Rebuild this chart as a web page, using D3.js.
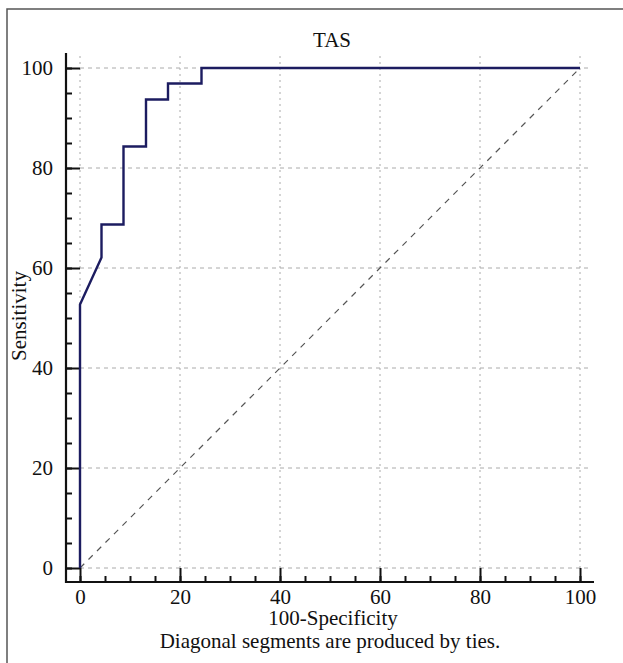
<!DOCTYPE html>
<html>
<head>
<meta charset="utf-8">
<script src="https://cdn.jsdelivr.net/npm/d3@7"></script>
<style>
  body { margin: 0; background: #fff; }
  svg { display: block; font-family: "Liberation Serif", "DejaVu Serif", serif; }
</style>
</head>
<body>
<div class="chart"></div>
<script>
// ROC curve points
const fpr = [0, 0, 4.3, 4.3, 8.7, 8.7, 13.2, 13.2, 17.6, 17.6, 24.3, 24.3, 100];
const tpr = [0, 52.7, 62.1, 68.7, 68.7, 84.3, 84.3, 93.7, 93.7, 96.9, 96.9, 100, 100];
const majorTicks = [0, 20, 40, 60, 80, 100];
const minorTicks = d3.range(0, 101, 5);
const title = "TAS";
const xLabel = "100-Specificity";
const yLabel = "Sensitivity";
const note = "Diagonal segments are produced by ties.";

function drawChart() {
  const width = 623;
  const height = 663;
  const axisX = 66, axisY = 582;

  const svg = d3.select(".chart").append("svg")
    .attr("width", width)
    .attr("height", height);

  // frame
  svg.append("path")
    .attr("d", `M7,${height} L7,9 L${width},9`)
    .attr("fill", "none")
    .attr("stroke", "#555")
    .attr("stroke-width", 1.5);

  const xScale = d3.scaleLinear().domain([0, 100]).range([80, 580]);
  const yScale = d3.scaleLinear().domain([0, 100]).range([568, 68]);

  // grid
  svg.append("g").selectAll("line")
    .data(majorTicks)
    .enter()
    .append("line")
      .attr("x1", d => xScale(d)).attr("x2", d => xScale(d))
      .attr("y1", yScale(100) - 12).attr("y2", yScale(0))
      .attr("stroke", "#aaa")
      .attr("stroke-dasharray", "2,4");
  svg.append("g").selectAll("line")
    .data(majorTicks)
    .enter()
    .append("line")
      .attr("x1", xScale(0)).attr("x2", xScale(100) + 12)
      .attr("y1", d => yScale(d)).attr("y2", d => yScale(d))
      .attr("stroke", "#aaa")
      .attr("stroke-dasharray", "4,4");

  // reference diagonal
  svg.append("line")
    .attr("x1", xScale(0)).attr("y1", yScale(0))
    .attr("x2", xScale(100)).attr("y2", yScale(100))
    .attr("stroke", "#555")
    .attr("stroke-width", 1.2)
    .attr("stroke-dasharray", "6,6");

  // axes
  const xAxis = d3.axisBottom(xScale).tickValues(majorTicks).tickSize(-(axisY - yScale(0))).tickPadding(7);
  const xMinor = d3.axisBottom(xScale).tickValues(minorTicks).tickSize(-6).tickFormat("");
  const yAxis = d3.axisLeft(yScale).tickValues(majorTicks).tickSize(-(xScale(0) - axisX)).tickPadding(13);
  const yMinor = d3.axisLeft(yScale).tickValues(minorTicks).tickSize(-6).tickFormat("");

  for (const ax of [xMinor, xAxis]) {
    svg.append("g")
      .attr("transform", `translate(0, ${axisY})`)
      .call(ax)
      .call(g => g.select(".domain").remove());
  }
  for (const ax of [yMinor, yAxis]) {
    svg.append("g")
      .attr("transform", `translate(${axisX}, 0)`)
      .call(ax)
      .call(g => g.select(".domain").remove());
  }
  svg.selectAll(".tick line").attr("stroke", "#111").attr("stroke-width", 2);
  svg.selectAll(".tick text")
    .attr("fill", "#111")
    .style("font-family", "Liberation Serif")
    .style("font-size", "21px");

  svg.append("path")
    .attr("d", `M${axisX},53 L${axisX},${axisY} L594,${axisY}`)
    .attr("fill", "none")
    .attr("stroke", "#111")
    .attr("stroke-width", 2.2);

  // ROC curve
  const points = fpr.map((f, i) => ({fpr: f, tpr: tpr[i]}));
  const line = d3.line()
    .x(d => xScale(d.fpr))
    .y(d => yScale(d.tpr));
  svg.append("path")
    .attr("d", line(points))
    .attr("fill", "none")
    .attr("stroke", "#1c1c60")
    .attr("stroke-width", 2.4);

  // texts
  svg.append("text")
    .attr("x", 332).attr("y", 47)
    .attr("text-anchor", "middle")
    .style("font-size", "21px")
    .attr("fill", "#111")
    .text(title);
  svg.append("text")
    .attr("x", 333).attr("y", 625)
    .attr("text-anchor", "middle")
    .style("font-size", "21px")
    .attr("fill", "#111")
    .text(xLabel);
  svg.append("text")
    .attr("x", 330).attr("y", 648)
    .attr("text-anchor", "middle")
    .style("font-size", "21px")
    .attr("fill", "#111")
    .text(note);
  svg.append("text")
    .attr("transform", "translate(26, 316) rotate(-90)")
    .attr("text-anchor", "middle")
    .style("font-size", "21px")
    .attr("fill", "#111")
    .text(yLabel);
}

drawChart();
</script>
</body>
</html>
